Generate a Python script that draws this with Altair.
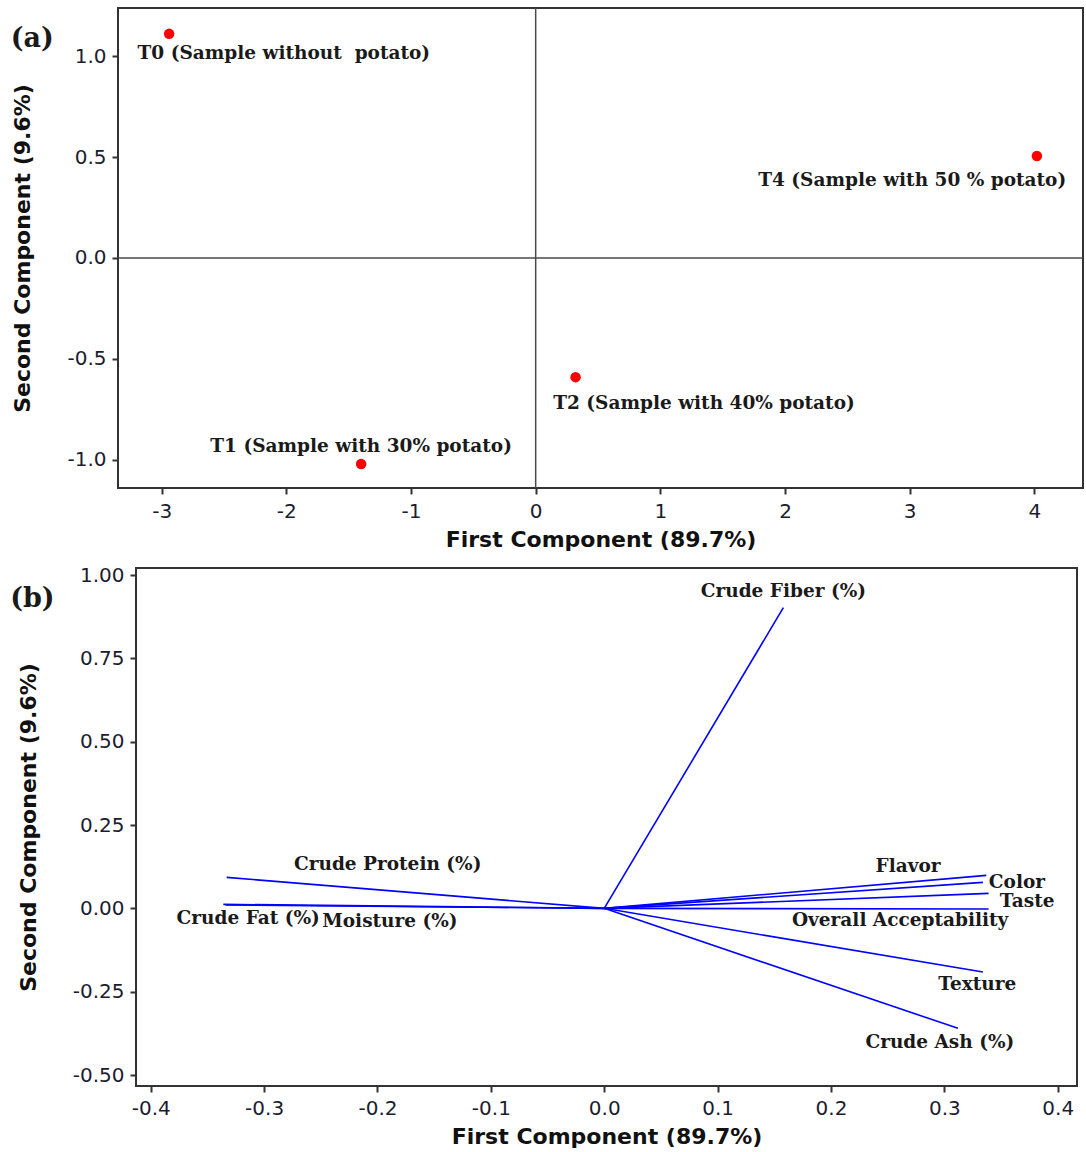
import altair as alt
import pandas as pd

# ---- PCA scores of the four formulations ----
sample_names = [
    "T0 (Sample without\u00a0 potato)",
    "T1 (Sample with 30% potato)",
    "T2 (Sample with 40% potato)",
    "T4 (Sample with 50 % potato)",
]
score_pc1 = [-2.94, -1.40, 0.32, 4.02]
score_pc2 = [1.11, -1.02, -0.59, 0.505]
# anchor of each sample name (label centre)
score_label_pc1 = [-2.02, -1.40, 1.35, 3.02]
score_label_pc2 = [1.015, -0.93, -0.72, 0.386]

# ---- PCA loadings of the measured attributes ----
attributes = [
    "Crude Fiber (%)", "Crude Protein (%)", "Crude Fat (%)", "Moisture (%)",
    "Flavor", "Color", "Taste", "Overall Acceptability", "Texture", "Crude Ash (%)",
]
load_pc1 = [0.158, -0.333, -0.336, -0.334, 0.337, 0.334, 0.339, 0.339, 0.334, 0.312]
load_pc2 = [0.902, 0.093, 0.012, 0.010, 0.099, 0.078, 0.045, -0.002, -0.191, -0.360]
# anchor of each attribute name (label centre)
load_label_pc1 = [0.158, -0.191, -0.314, -0.189, 0.268, 0.364, 0.373, 0.261, 0.329, 0.296]
load_label_pc2 = [0.951, 0.132, -0.030, -0.039, 0.126, 0.078, 0.021, -0.036, -0.228, -0.402]

# ---- axis ticks ----
x_ticks_a = [-3, -2, -1, 0, 1, 2, 3, 4]
y_ticks_a = [-1.0, -0.5, 0.0, 0.5, 1.0]
x_ticks_b = [-0.4, -0.3, -0.2, -0.1, 0.0, 0.1, 0.2, 0.3, 0.4]
y_ticks_b = [-0.5, -0.25, 0.0, 0.25, 0.5, 0.75, 1.0]

X_TITLE = "First Component (89.7%)"
Y_TITLE = "Second Component (9.6%)"
SANS = "DejaVu Sans"
SERIF = "DejaVu Serif"
INK = "#1a1a1a"
LABEL_SIZE = 18.5
TAG_SIZE = 27

scores = pd.DataFrame({
    "name": sample_names, "pc1": score_pc1, "pc2": score_pc2,
    "lx": score_label_pc1, "ly": score_label_pc2,
})
loadings = pd.DataFrame({
    "name": attributes, "pc1": load_pc1, "pc2": load_pc2,
    "lx": load_label_pc1, "ly": load_label_pc2,
    "ox": [0.0] * len(attributes), "oy": [0.0] * len(attributes),
})


def axis(values, fmt, title, orient, label_pad=5, title_pad=7):
    # plain hyphen for negative tick labels
    expr = f"replace(format(datum.value, '{fmt}'), '\u2212', '-')"
    common = dict(
        values=values, labelExpr=expr, title=title, grid=False, domain=False,
        tickSize=6, tickWidth=2, tickColor="#333333",
        labelFont=SANS, labelFontSize=20, labelColor="#1c1c30",
        titleFont=SANS, titleFontSize=22, titleFontWeight="bold", titleColor="#111111",
    )
    if orient == "bottom":
        common.update(labelPadding=label_pad, titlePadding=title_pad)
    else:
        common.update(labelPadding=6, titlePadding=32)
    return alt.Axis(**common)


def spacer():
    # invisible 1px column that fixes where each row starts
    return alt.Chart(pd.DataFrame({"z": [0]})).mark_point(opacity=0, size=1).encode(
        x=alt.value(0), y=alt.value(0)
    ).properties(width=1, height=1, view=alt.ViewBackground(stroke="transparent"))


# ================= panel (a): score plot =================
xa = alt.Scale(domain=[-3.35, 4.39], nice=False, zero=False)
ya = alt.Scale(domain=[-1.139, 1.238], nice=False, zero=False)
ax_xa = axis(x_ticks_a, "d", X_TITLE, "bottom", label_pad=7, title_pad=8)
ax_ya = axis(y_ticks_a, ".1f", Y_TITLE, "left")

zero = pd.DataFrame({"v": [0.0]})
vline_a = alt.Chart(zero).mark_rule(color="#4a4a4a", strokeWidth=1.5).encode(
    x=alt.X("v:Q", scale=xa, axis=ax_xa)
)
hline_a = alt.Chart(zero).mark_rule(color="#4a4a4a", strokeWidth=1.5).encode(
    y=alt.Y("v:Q", scale=ya, axis=ax_ya)
)
pts_a = alt.Chart(scores).mark_circle(color="#ff0000", opacity=1, size=110).encode(
    x=alt.X("pc1:Q", scale=xa, axis=ax_xa),
    y=alt.Y("pc2:Q", scale=ya, axis=ax_ya),
)
lbl_a = alt.Chart(scores).mark_text(
    font=SERIF, fontWeight="bold", fontSize=LABEL_SIZE, color=INK, align="center", baseline="middle"
).encode(
    x=alt.X("lx:Q", scale=xa, axis=ax_xa),
    y=alt.Y("ly:Q", scale=ya, axis=ax_ya),
    text="name:N",
)
tag_a = alt.Chart(pd.DataFrame({"x": [-4.21], "y": [1.085], "t": ["(a)"]})).mark_text(
    font=SERIF, fontWeight="bold", fontSize=TAG_SIZE, color=INK, align="left", baseline="middle"
).encode(
    x=alt.X("x:Q", scale=xa, axis=ax_xa),
    y=alt.Y("y:Q", scale=ya, axis=ax_ya),
    text="t:N",
)
panel_a = alt.layer(vline_a, hline_a, pts_a, lbl_a, tag_a).properties(width=965, height=480)

# ================= panel (b): loading plot =================
xb = alt.Scale(domain=[-0.413, 0.417], nice=False, zero=False)
yb = alt.Scale(domain=[-0.533, 1.021], nice=False, zero=False)
ax_xb = axis(x_ticks_b, ".1f", X_TITLE, "bottom", label_pad=6, title_pad=8)
ax_yb = axis(y_ticks_b, ".2f", Y_TITLE, "left")

vec_b = alt.Chart(loadings).mark_rule(color="#0000ff", strokeWidth=1.6).encode(
    x=alt.X("ox:Q", scale=xb, axis=ax_xb),
    y=alt.Y("oy:Q", scale=yb, axis=ax_yb),
    x2="pc1:Q",
    y2="pc2:Q",
)
lbl_b = alt.Chart(loadings).mark_text(
    font=SERIF, fontWeight="bold", fontSize=LABEL_SIZE, color=INK, align="center", baseline="middle"
).encode(
    x=alt.X("lx:Q", scale=xb, axis=ax_xb),
    y=alt.Y("ly:Q", scale=yb, axis=ax_yb),
    text="name:N",
)
tag_b = alt.Chart(pd.DataFrame({"x": [-0.524], "y": [0.927], "t": ["(b)"]})).mark_text(
    font=SERIF, fontWeight="bold", fontSize=TAG_SIZE, color=INK, align="left", baseline="middle"
).encode(
    x=alt.X("x:Q", scale=xb, axis=ax_xb),
    y=alt.Y("y:Q", scale=yb, axis=ax_yb),
    text="t:N",
)
panel_b = alt.layer(vec_b, lbl_b, tag_b).properties(width=941, height=518)

row_a = alt.hconcat(spacer(), panel_a, spacing=0)
row_b = alt.hconcat(spacer(), panel_b, spacing=0)

chart = alt.vconcat(row_a, row_b, spacing=12).properties(
    padding={"left": 5, "top": 6, "right": 0, "bottom": 0},
    background="white",
).configure_view(stroke="#333333", strokeWidth=2)

chart.save("out.html", embed_options={"renderer": "svg", "actions": False})
